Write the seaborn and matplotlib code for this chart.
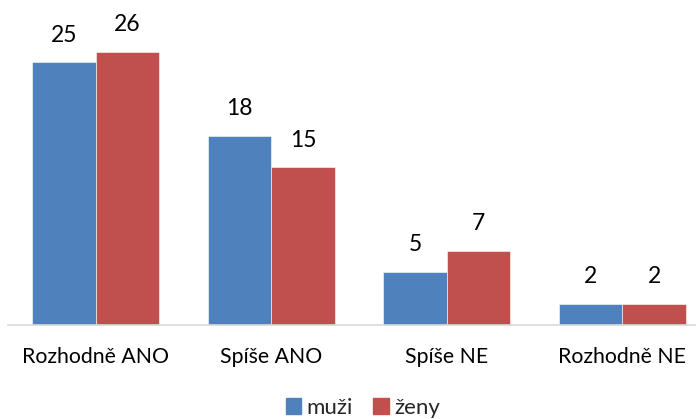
import matplotlib
matplotlib.use("Agg")
import matplotlib.pyplot as plt
import seaborn as sns
import pandas as pd

categories = ["Rozhodně ANO", "Spíše ANO", "Spíše NE", "Rozhodně NE"]
muzi = [25, 18, 5, 2]
zeny = [26, 15, 7, 2]
series_names = ["muži", "ženy"]
colors = ["#4F81BD", "#C0504D"]

df = pd.DataFrame({
    "kategorie": categories * 2,
    "hodnota": muzi + zeny,
    "pohlaví": [series_names[0]] * 4 + [series_names[1]] * 4,
})

sns.set_style("white")
plt.rcParams["font.family"] = ["Lato", "DejaVu Sans"]

fig = plt.figure(figsize=(6.96, 4.19), dpi=100)
W, H = 696, 419
left, right = 8, 696
base, top = 324.5, 9.0
ax = fig.add_axes([left / W, (H - base) / H, (right - left) / W, (base - top) / H])

sns.barplot(data=df, x="kategorie", y="hodnota", hue="pohlaví",
            palette=colors, width=0.725, ax=ax, legend=False,
            edgecolor="white", linewidth=0.4, saturation=1)

ymax = (base - top) / 10.48
ax.set_ylim(0, ymax)
ax.set_xlim(-0.5, -0.5 + (right - left) / 175.5)

for cont in ax.containers:
    ax.bar_label(cont, labels=[f"{v:.0f}" for v in cont.datavalues],
                 padding=12, fontsize=16.5, color="black")

ax.set_xlabel("")
ax.set_ylabel("")
ax.set_yticks([])
ax.tick_params(axis="x", length=0, pad=16, labelsize=15.3, colors="black")
for s in ["top", "right", "left"]:
    ax.spines[s].set_visible(False)
ax.spines["bottom"].set_color("#D9D9D9")
ax.spines["bottom"].set_linewidth(1.2)

handles = [plt.Rectangle((0, 0), 1, 1, color=c) for c in colors]
fig.legend(handles, series_names, loc="center", bbox_to_anchor=(363 / W, (H - 408) / H),
           ncol=2, frameon=False, fontsize=16, handlelength=0.7, handleheight=0.7,
           handletextpad=0.25, columnspacing=0.9)

fig.savefig("out.png", dpi=100)
